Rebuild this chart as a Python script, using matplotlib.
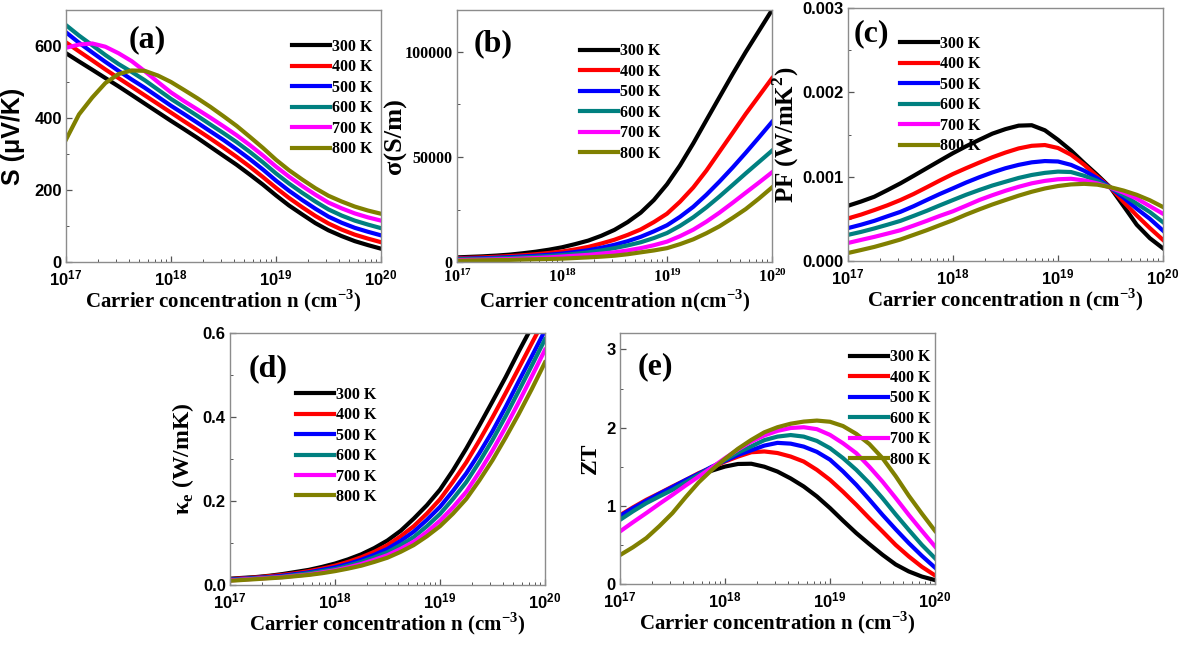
import matplotlib
matplotlib.use("Agg")
import matplotlib.pyplot as plt
from matplotlib.ticker import MultipleLocator, LogLocator, NullFormatter, FixedLocator, FixedFormatter

plt.rcParams['font.family'] = 'Liberation Sans'
plt.rcParams['font.weight'] = 'bold'
plt.rcParams['axes.labelweight'] = 'bold'

# ---------------- data ----------------
temperatures = ['300 K', '400 K', '500 K', '600 K', '700 K', '800 K']
line_colors = ['#000000', '#ff0000', '#0000ff', '#008080', '#ff00ff', '#808000']

# carrier concentrations (cm^-3), shared by all panels
carrier_n = [1.00e17, 1.33e17, 1.78e17, 2.37e17, 3.16e17, 4.22e17, 5.62e17, 7.50e17,
             1.00e18, 1.33e18, 1.78e18, 2.37e18, 3.16e18, 4.22e18, 5.62e18, 7.50e18,
             1.00e19, 1.33e19, 1.78e19, 2.37e19, 3.16e19, 4.22e19, 5.62e19, 7.50e19, 1.00e20]

# (a) Seebeck coefficient, uV/K
seebeck = [
    [580, 557, 534, 511, 488, 464, 440, 416, 392, 369, 345, 320, 295, 270, 243, 215, 185, 157, 132, 108, 88, 72, 58, 47, 37],
    [610, 585, 560, 535, 511, 487, 463, 439, 415, 391, 367, 343, 318, 292, 265, 236, 206, 178, 152, 128, 107, 90, 76, 65, 55],
    [638, 609, 582, 556, 531, 507, 484, 459, 434, 411, 387, 363, 339, 313, 286, 257, 226, 198, 172, 148, 126, 109, 95, 84, 74],
    [658, 629, 602, 575, 550, 528, 505, 479, 453, 430, 406, 382, 358, 333, 306, 277, 246, 218, 192, 168, 146, 129, 115, 104, 94],
    [595, 604, 607, 598, 580, 558, 530, 500, 471, 447, 424, 401, 377, 352, 325, 296, 265, 237, 211, 187, 165, 149, 135, 124, 115],
    [340, 410, 457, 497, 522, 532, 531, 518, 500, 478, 455, 431, 405, 378, 348, 317, 284, 255, 229, 205, 184, 168, 154, 143, 134],
]

# (b) electrical conductivity, S/m
conductivity = [
    [2200, 2450, 2700, 3050, 3500, 4150, 4900, 5850, 7000, 8500, 10200, 12500, 15300, 19000, 23500,
     29500, 37000, 46000, 56500, 67500, 78500, 89500, 100000, 110000, 120000],
    [1800, 2000, 2200, 2500, 2800, 3200, 3700, 4300, 5000, 6000, 7200, 8800, 10600, 12900, 15500,
     19000, 23000, 28700, 35500, 43500, 52500, 61500, 70500, 79000, 87500],
    [1500, 1650, 1800, 2050, 2300, 2650, 3000, 3450, 4000, 4750, 5600, 6800, 8200, 9900, 12000,
     14600, 17500, 21500, 26300, 32000, 38300, 45000, 52000, 59300, 66700],
    [1300, 1400, 1500, 1700, 1900, 2200, 2500, 2850, 3300, 3900, 4600, 5500, 6600, 7900, 9400,
     11400, 13800, 17200, 21300, 26000, 31200, 36700, 42200, 47600, 53000],
    [900, 1000, 1100, 1250, 1400, 1650, 1900, 2200, 2600, 3000, 3400, 4000, 4600, 5500, 6600,
     8000, 9700, 12300, 15400, 19200, 23500, 28200, 33000, 37800, 42700],
    [600, 700, 800, 900, 1000, 1150, 1300, 1450, 1600, 1900, 2200, 2550, 3000, 3700, 4600,
     5500, 6600, 8500, 10800, 13700, 17000, 21000, 25200, 30200, 35500],
]

# (c) power factor, W/mK^2
power_factor = [
    [0.000655, 0.000705, 0.000762, 0.000840, 0.000921, 0.001010, 0.001100, 0.001190, 0.001279,
     0.001360, 0.001437, 0.001510, 0.001564, 0.001605, 0.001610, 0.001550, 0.001437, 0.001310,
     0.001160, 0.001020, 0.000870, 0.000650, 0.000430, 0.000270, 0.000150],
    [0.000505, 0.000550, 0.000604, 0.000660, 0.000723, 0.000795, 0.000874, 0.000955, 0.001032,
     0.001100, 0.001167, 0.001230, 0.001286, 0.001335, 0.001366, 0.001375, 0.001340, 0.001260,
     0.001140, 0.001000, 0.000870, 0.000700, 0.000540, 0.000390, 0.000250],
    [0.000390, 0.000430, 0.000476, 0.000530, 0.000583, 0.000650, 0.000723, 0.000795, 0.000862,
     0.000930, 0.000993, 0.001050, 0.001100, 0.001140, 0.001170, 0.001185, 0.001180, 0.001140,
     0.001070, 0.000980, 0.000870, 0.000750, 0.000620, 0.000500, 0.000360],
    [0.000310, 0.000345, 0.000386, 0.000430, 0.000476, 0.000535, 0.000595, 0.000660, 0.000723,
     0.000785, 0.000842, 0.000895, 0.000940, 0.000985, 0.001020, 0.001045, 0.001060, 0.001055,
     0.001010, 0.000950, 0.000870, 0.000780, 0.000680, 0.000580, 0.000460],
    [0.000214, 0.000250, 0.000286, 0.000325, 0.000365, 0.000420, 0.000476, 0.000535, 0.000590,
     0.000655, 0.000723, 0.000780, 0.000833, 0.000880, 0.000921, 0.000950, 0.000969, 0.000975,
     0.000955, 0.000920, 0.000870, 0.000810, 0.000740, 0.000650, 0.000560],
    [0.000095, 0.000130, 0.000167, 0.000210, 0.000255, 0.000310, 0.000365, 0.000425, 0.000484,
     0.000550, 0.000612, 0.000670, 0.000723, 0.000775, 0.000821, 0.000860, 0.000889, 0.000908,
     0.000915, 0.000905, 0.000875, 0.000835, 0.000785, 0.000720, 0.000640],
]

# (d) electronic thermal conductivity, W/mK
kappa_e = [
    [0.015, 0.017, 0.019, 0.022, 0.026, 0.031, 0.036, 0.043, 0.051, 0.061, 0.073, 0.088, 0.106,
     0.129, 0.158, 0.190, 0.227, 0.273, 0.325, 0.380, 0.437, 0.495, 0.556, 0.615, 0.675],
    [0.014, 0.016, 0.018, 0.021, 0.024, 0.028, 0.033, 0.039, 0.046, 0.055, 0.066, 0.079, 0.095,
     0.116, 0.140, 0.170, 0.204, 0.246, 0.292, 0.344, 0.399, 0.457, 0.516, 0.576, 0.635],
    [0.013, 0.015, 0.017, 0.019, 0.022, 0.026, 0.030, 0.036, 0.042, 0.050, 0.060, 0.072, 0.086,
     0.105, 0.127, 0.155, 0.186, 0.224, 0.266, 0.314, 0.366, 0.424, 0.485, 0.545, 0.606],
    [0.012, 0.014, 0.016, 0.018, 0.020, 0.024, 0.028, 0.033, 0.038, 0.046, 0.055, 0.066, 0.078,
     0.095, 0.114, 0.140, 0.169, 0.205, 0.245, 0.293, 0.345, 0.402, 0.462, 0.523, 0.585],
    [0.011, 0.013, 0.015, 0.017, 0.019, 0.022, 0.025, 0.030, 0.035, 0.042, 0.050, 0.060, 0.071,
     0.086, 0.103, 0.126, 0.153, 0.185, 0.222, 0.269, 0.320, 0.376, 0.435, 0.497, 0.560],
    [0.010, 0.012, 0.014, 0.016, 0.018, 0.021, 0.024, 0.028, 0.033, 0.039, 0.046, 0.055, 0.065,
     0.079, 0.095, 0.116, 0.140, 0.170, 0.205, 0.249, 0.297, 0.351, 0.407, 0.467, 0.530],
]

# (e) figure of merit ZT
zt = [
    [0.87, 0.96, 1.055, 1.14, 1.226, 1.31, 1.383, 1.45, 1.502, 1.535, 1.538, 1.50, 1.438,
     1.35, 1.247, 1.12, 0.971, 0.81, 0.651, 0.51, 0.374, 0.25, 0.161, 0.095, 0.05],
    [0.88, 0.98, 1.077, 1.16, 1.247, 1.33, 1.418, 1.49, 1.566, 1.63, 1.685, 1.695, 1.675,
     1.63, 1.566, 1.46, 1.332, 1.18, 1.013, 0.84, 0.672, 0.50, 0.353, 0.22, 0.11],
    [0.87, 0.97, 1.065, 1.155, 1.24, 1.33, 1.41, 1.50, 1.575, 1.65, 1.71, 1.77, 1.805,
     1.795, 1.757, 1.69, 1.59, 1.44, 1.268, 1.08, 0.885, 0.70, 0.524, 0.36, 0.21],
    [0.82, 0.93, 1.034, 1.12, 1.204, 1.30, 1.396, 1.49, 1.588, 1.68, 1.76, 1.84, 1.885,
     1.905, 1.885, 1.83, 1.737, 1.61, 1.46, 1.29, 1.098, 0.89, 0.693, 0.50, 0.33],
    [0.672, 0.79, 0.907, 1.025, 1.14, 1.26, 1.374, 1.49, 1.609, 1.72, 1.821, 1.90, 1.958,
     1.995, 2.005, 1.98, 1.907, 1.80, 1.673, 1.50, 1.31, 1.10, 0.885, 0.68, 0.48],
    [0.37, 0.47, 0.587, 0.74, 0.907, 1.11, 1.30, 1.46, 1.60, 1.73, 1.843, 1.94, 2.005,
     2.05, 2.077, 2.09, 2.075, 2.02, 1.92, 1.79, 1.61, 1.38, 1.13, 0.90, 0.68],
]

# tick labels
x_tick_exponents = [17, 18, 19, 20]
y_ticks_a = [0, 200, 400, 600]
y_ticks_b = [0, 50000, 100000]
y_ticks_c = [0, 0.001, 0.002, 0.003]
y_ticks_d = [0, 0.2, 0.4, 0.6]
y_ticks_e = [0, 1, 2, 3]
y_labels_a = ['0', '200', '400', '600']
y_labels_b = ['0', '50000', '100000']
y_labels_c = ['0.000', '0.001', '0.002', '0.003']
y_labels_d = ['0.0', '0.2', '0.4', '0.6']
y_labels_e = ['0', '1', '2', '3']

# ---------------- figure ----------------
SERIF = 'Liberation Serif'
SANS = 'Liberation Sans'
W, H = 1186, 645
fig = plt.figure(figsize=(W / 100, H / 100), dpi=100)


def rect(l, t, r, b):
    return [l / W, 1 - b / H, (r - l) / W, (b - t) / H]


XLABEL = r'Carrier concentration n (cm$^{\mathdefault{-3}}$)'
XLABEL_B = r'Carrier concentration n(cm$^{\mathdefault{-3}}$)'

panels = [
    dict(r=rect(66, 10, 381, 262), ys=seebeck, ylim=(0, 700), minor=100,
         yt=y_ticks_a, yl=y_labels_a, ylabel='S (μV/K)', yfam=SANS, ylsize=18, ylx=-0.130,
         tfam=SANS, tsize=12, tag='(a)', tagpos=(0.257, 0.881), leg=(0.717, 0.885), xlabel=XLABEL),
    dict(r=rect(457, 10, 772, 262), ys=conductivity, ylim=(0, 120000), minor=25000,
         yt=y_ticks_b, yl=y_labels_b, ylabel='σ(S/m)', yfam=SERIF, ylsize=19, ylx=-0.160,
         tfam=SERIF, tsize=11.5, tag='(b)', tagpos=(0.115, 0.868), leg=(0.39, 0.868), xlabel=XLABEL_B),
    dict(r=rect(848, 8, 1163, 261), ys=power_factor, ylim=(0, 0.003), minor=0.0005,
         yt=y_ticks_c, yl=y_labels_c, ylabel=r'PF (W/mK$^{\mathdefault{2}}$)', yfam=SERIF, ylsize=18,
         ylx=-0.150, tfam=SANS, tsize=12, tag='(c)', tagpos=(0.075, 0.90), leg=(0.165, 0.890),
         xlabel=XLABEL),
    dict(r=rect(230, 333, 545, 585), ys=kappa_e, ylim=(0, 0.6), minor=0.1,
         yt=y_ticks_d, yl=y_labels_d, ylabel=r'κ$_{\mathdefault{e}}$ (W/mK)', yfam=SERIF, ylsize=17,
         ylx=-0.108, tfam=SANS, tsize=12, tag='(d)', tagpos=(0.122, 0.86), leg=(0.21, 0.787),
         xlabel=XLABEL),
    dict(r=rect(620, 333, 935, 584), ys=zt, ylim=(0, 3.21), minor=0.5,
         yt=y_ticks_e, yl=y_labels_e, ylabel='ZT', yfam=SERIF, ylsize=17, ylx=-0.060,
         tfam=SANS, tsize=12, tag='(e)', tagpos=(0.111, 0.866), leg=(0.73, 0.935), xlabel=XLABEL),
]

for p in panels:
    ax = fig.add_axes(p['r'])
    for ys, c, lab in zip(p['ys'], line_colors, temperatures):
        ax.plot(carrier_n, ys, color=c, lw=3.0, label=lab)
    ax.set_xscale('log')
    ax.set_xlim(carrier_n[0], carrier_n[-1])
    ax.set_ylim(*p['ylim'])

    ax.xaxis.set_major_locator(FixedLocator([10.0 ** k for k in x_tick_exponents]))
    ax.xaxis.set_major_formatter(FixedFormatter([r'$\mathdefault{10^{%d}}$' % k for k in x_tick_exponents]))
    ax.xaxis.set_minor_locator(LogLocator(base=10, subs=[2, 3, 4, 5, 6, 7, 8, 9], numticks=20))
    ax.xaxis.set_minor_formatter(NullFormatter())
    ax.yaxis.set_major_locator(FixedLocator(p['yt']))
    ax.yaxis.set_major_formatter(FixedFormatter(p['yl']))
    ax.yaxis.set_minor_locator(MultipleLocator(p['minor']))

    for s in ax.spines.values():
        s.set_color('#8c8c8c')
        s.set_linewidth(1.0)
    ax.tick_params(which='both', direction='in', top=False, right=False, color='#555555')
    ax.tick_params(axis='x', which='major', pad=4.5)
    ax.tick_params(axis='y', which='major', pad=3)
    ax.tick_params(which='major', length=4, width=0.9, labelsize=p['tsize'])
    ax.tick_params(which='minor', length=2.2, width=0.7)
    for t in ax.get_xticklabels() + ax.get_yticklabels():
        t.set_fontfamily(p['tfam'])
        t.set_fontweight('bold')

    ax.set_xlabel(p['xlabel'], fontsize=15, family=SERIF, weight='bold')
    ax.xaxis.set_label_coords(0.5, -0.10)
    ax.set_ylabel(p['ylabel'], fontsize=p['ylsize'], family=p['yfam'], weight='bold')
    ax.yaxis.set_label_coords(p['ylx'], 0.5)

    ax.text(p['tagpos'][0], p['tagpos'][1], p['tag'], transform=ax.transAxes, ha='center',
            va='center', fontsize=23, family=SERIF, weight='bold')

    ax.legend(loc='upper left', bbox_to_anchor=p['leg'], frameon=False,
              prop={'family': SERIF, 'weight': 'bold', 'size': 11.5},
              handlelength=2.4, handletextpad=0.1, labelspacing=0.28,
              borderpad=0, borderaxespad=0)

fig.savefig('out.png', dpi=100)
